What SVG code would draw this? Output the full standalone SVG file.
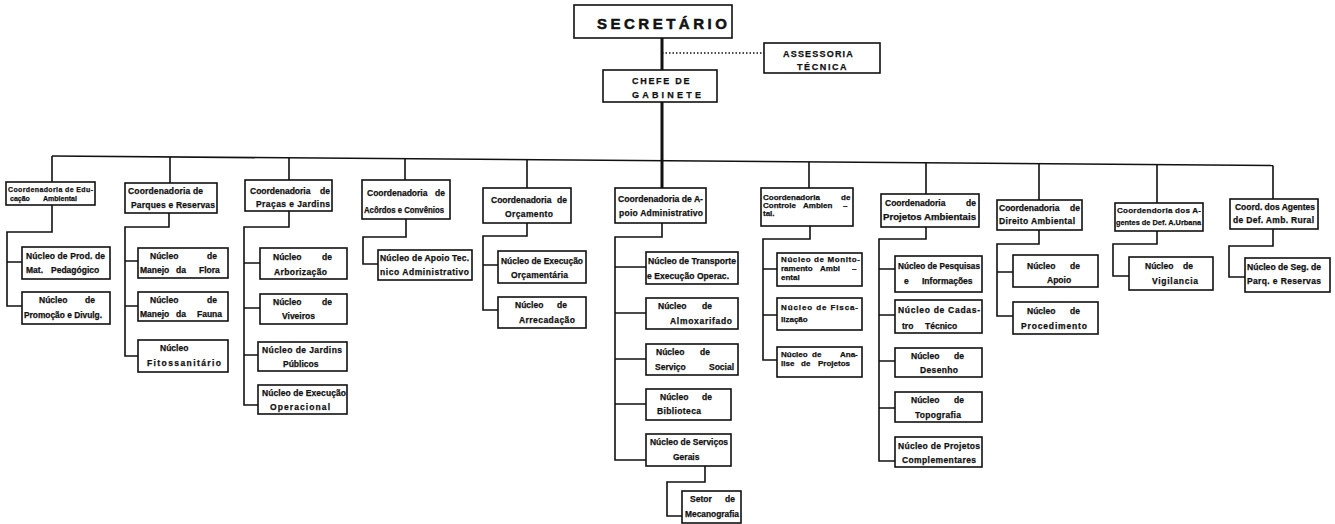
<svg xmlns="http://www.w3.org/2000/svg" width="1335" height="524" viewBox="0 0 1335 524">
<style>
.b{fill:#fff;stroke:#111;stroke-width:1.6}
.c{fill:none;stroke:#111;stroke-width:1.6}
.tr{fill:none;stroke:#111;stroke-width:3}
.d{fill:none;stroke:#111;stroke-width:1.3;stroke-dasharray:1.5 2}
text{font-family:"Liberation Sans",Arial,sans-serif;font-weight:bold;fill:#111;stroke:#111;stroke-width:0.25}
.t{font-size:8.5px}
.s{font-size:8px}
.xs{font-size:7px}
.h1{font-size:15px;stroke-width:0.5}
.h2{font-size:9px}
</style>
<rect width="1335" height="524" fill="#fff"/>
<g id="connectors">
<path class="tr" d="M662,38V70M662,102V188"/>
<path class="d" d="M662,53H764"/>
<path class="c" d="M52,156L1273,165.5"/>
<path class="c" d="M52,156V182M170,156.9V183M289,157.8V180M405,158.7V180M527,159.7V188M809,161.9V188M926,162.8V194M1039,163.7V200M1157,164.6V203M1273,165.5V199"/>
<path class="c" d="M52,205V232H7V306H22M7,262H22"/>
<path class="c" d="M169,213V227H125V356H138M125,261H138M125,306H138"/>
<path class="c" d="M289,211V227H244V405H258M244,263H260M244,308H260M244,355H258"/>
<path class="c" d="M406,219V237H363V264H378"/>
<path class="c" d="M527,223V236H483V310H498M483,265H498"/>
<path class="c" d="M662,223V237H615V460H646M615,267H646M615,313H646M615,359H646M615,404H646"/>
<path class="c" d="M705,466V482H667V516H682"/>
<path class="c" d="M810,226V239H763V360H777M763,269H777M763,315H777"/>
<path class="c" d="M926,227V239H879V461H895M879,269H895M879,315H895M879,361H895M879,408H895"/>
<path class="c" d="M1039,230V244H997V316H1013M997,272H1013"/>
<path class="c" d="M1157,230V244H1113V276H1129"/>
<path class="c" d="M1273,229V246H1229V277H1245"/>
</g>
<g id="secretario"><rect class="b" x="574" y="5" width="158" height="33" stroke-width="2.2"/><text class="h1" x="597" y="29" letter-spacing="3.5">SECRETÁRIO</text></g>
<g id="assessoria"><rect class="b" x="764" y="43" width="116" height="30"/><text class="h2" x="783" y="57" letter-spacing="1.2">ASSESSORIA</text><text class="h2" x="797" y="70" letter-spacing="1.6">TÉCNICA</text></g>
<g id="chefe"><rect class="b" x="603" y="70" width="114" height="32"/><text class="h2" x="632" y="84" letter-spacing="1.7">CHEFE DE</text><text class="h2" x="632" y="98" letter-spacing="3.2">GABINETE</text></g>

<g id="coord-educacao"><rect class="b" x="6" y="182" width="89" height="23"/><text class="xs" x="8" y="192" textLength="85" lengthAdjust="spacing">Coordenadoria de Edu-</text><text class="xs" y="201"><tspan x="10">cação</tspan><tspan x="43">Ambiental</tspan></text></g>
<g id="n-prod"><rect class="b" x="22" y="247" width="88" height="32"/><text class="t" x="26" y="259" textLength="79" lengthAdjust="spacing">Núcleo de Prod. de</text><text class="t" y="273"><tspan x="26">Mat.</tspan><tspan x="51">Pedagógico</tspan></text></g>
<g id="n-promocao"><rect class="b" x="22" y="292" width="88" height="32"/><text class="t" y="303"><tspan x="39">Núcleo</tspan><tspan x="85">de</tspan></text><text class="t" x="24" y="318" textLength="78" lengthAdjust="spacingAndGlyphs">Promoção e Divulg.</text></g>

<g id="coord-parques"><rect class="b" x="125" y="183" width="92" height="30"/><text class="t" x="128" y="194" textLength="75" lengthAdjust="spacing">Coordenadoria de</text><text class="t" x="131" y="208" textLength="84" lengthAdjust="spacing">Parques e Reservas</text></g>
<g id="n-flora"><rect class="b" x="138" y="248" width="90" height="30"/><text class="t" y="259"><tspan x="150">Núcleo</tspan><tspan x="207">de</tspan></text><text class="t" y="273"><tspan x="140">Manejo</tspan><tspan x="176">da</tspan><tspan x="199">Flora</tspan></text></g>
<g id="n-fauna"><rect class="b" x="138" y="292" width="90" height="29"/><text class="t" y="303"><tspan x="150">Núcleo</tspan><tspan x="207">de</tspan></text><text class="t" y="317"><tspan x="140">Manejo</tspan><tspan x="176">da</tspan><tspan x="197">Fauna</tspan></text></g>
<g id="n-fito"><rect class="b" x="138" y="340" width="90" height="32"/><text class="t" x="160" y="351">Núcleo</text><text class="t" x="147" y="366" textLength="74" lengthAdjust="spacing">Fitossanitário</text></g>

<g id="coord-pracas"><rect class="b" x="245" y="180" width="87" height="31"/><text class="t" y="194"><tspan x="250">Coordenadoria</tspan><tspan x="320">de</tspan></text><text class="t" x="256" y="207" textLength="74" lengthAdjust="spacing">Praças e Jardins</text></g>
<g id="n-arboriz"><rect class="b" x="260" y="248" width="87" height="31"/><text class="t" y="260"><tspan x="273">Núcleo</tspan><tspan x="322">de</tspan></text><text class="t" x="274" y="275" textLength="53" lengthAdjust="spacing">Arborização</text></g>
<g id="n-viveiros"><rect class="b" x="260" y="294" width="87" height="30"/><text class="t" y="305"><tspan x="273">Núcleo</tspan><tspan x="322">de</tspan></text><text class="t" x="282" y="319">Viveiros</text></g>
<g id="n-jardins"><rect class="b" x="258" y="342" width="89" height="29"/><text class="t" x="262" y="353" textLength="80" lengthAdjust="spacing">Núcleo de Jardins</text><text class="t" x="283" y="367">Públicos</text></g>
<g id="n-execop"><rect class="b" x="258" y="385" width="89" height="29"/><text class="t" x="262" y="396" textLength="84" lengthAdjust="spacing">Núcleo de Execução</text><text class="t" x="270" y="410" textLength="60" lengthAdjust="spacing">Operacional</text></g>

<g id="coord-acordos"><rect class="b" x="362" y="180" width="88" height="39"/><text class="t" y="196"><tspan x="367">Coordenadoria</tspan><tspan x="435">de</tspan></text><text class="t" x="364" y="213" textLength="80" lengthAdjust="spacingAndGlyphs">Acôrdos e Convênios</text></g>
<g id="n-apoiotec"><rect class="b" x="378" y="250" width="94" height="30"/><text class="t" x="380" y="261" textLength="89" lengthAdjust="spacing">Núcleo de Apoio Tec.</text><text class="t" x="380" y="275" textLength="89" lengthAdjust="spacing">nico Administrativo</text></g>

<g id="coord-orcamento"><rect class="b" x="483" y="188" width="88" height="35"/><text class="t" y="203"><tspan x="491">Coordenadoria</tspan><tspan x="557">de</tspan></text><text class="t" x="505" y="217" textLength="48" lengthAdjust="spacing">Orçamento</text></g>
<g id="n-execorc"><rect class="b" x="498" y="251" width="88" height="32"/><text class="t" x="501" y="264" textLength="82" lengthAdjust="spacingAndGlyphs">Núcleo de Execução</text><text class="t" x="511" y="278" textLength="57" lengthAdjust="spacing">Orçamentária</text></g>
<g id="n-arrecad"><rect class="b" x="498" y="297" width="88" height="31"/><text class="t" y="308"><tspan x="515">Núcleo</tspan><tspan x="557">de</tspan></text><text class="t" x="519" y="323" textLength="56" lengthAdjust="spacing">Arrecadação</text></g>

<g id="coord-apoio"><rect class="b" x="615" y="188" width="91" height="35"/><text class="t" x="618" y="202" textLength="85" lengthAdjust="spacingAndGlyphs">Coordenadoria de A-</text><text class="t" x="619" y="216" textLength="84" lengthAdjust="spacing">poio Administrativo</text></g>
<g id="n-transporte"><rect class="b" x="646" y="252" width="92" height="32"/><text class="t" x="648" y="264" textLength="88" lengthAdjust="spacingAndGlyphs">Núcleo de Transporte</text><text class="t" x="647" y="279" textLength="82" lengthAdjust="spacing">e Execução Operac.</text></g>
<g id="n-almox"><rect class="b" x="646" y="298" width="92" height="31"/><text class="t" y="309"><tspan x="658">Núcleo</tspan><tspan x="702">de</tspan></text><text class="t" x="670" y="324" textLength="62" lengthAdjust="spacing">Almoxarifado</text></g>
<g id="n-social"><rect class="b" x="646" y="344" width="92" height="31"/><text class="t" y="355"><tspan x="656">Núcleo</tspan><tspan x="700">de</tspan></text><text class="t" y="370"><tspan x="655">Serviço</tspan><tspan x="709">Social</tspan></text></g>
<g id="n-biblio"><rect class="b" x="646" y="389" width="85" height="31"/><text class="t" y="400"><tspan x="660">Núcleo</tspan><tspan x="702">de</tspan></text><text class="t" x="657" y="414" textLength="44" lengthAdjust="spacing">Biblioteca</text></g>
<g id="n-servgerais"><rect class="b" x="646" y="434" width="85" height="32"/><text class="t" x="650" y="445" textLength="78" lengthAdjust="spacingAndGlyphs">Núcleo de Serviços</text><text class="t" x="673" y="460">Gerais</text></g>
<g id="setor-mecano"><rect class="b" x="682" y="491" width="59" height="32"/><text class="t" y="502"><tspan x="690">Setor</tspan><tspan x="725">de</tspan></text><text class="t" x="685" y="517" textLength="54" lengthAdjust="spacingAndGlyphs">Mecanografia</text></g>

<g id="coord-controle"><rect class="b" x="761" y="188" width="92" height="38"/><text class="s" y="200"><tspan x="763">Coordenadoria</tspan><tspan x="841">de</tspan></text><text class="s" y="208"><tspan x="763">Controle</tspan><tspan x="803">Ambien</tspan><tspan x="843">–</tspan></text><text class="s" x="763" y="216">tal.</text></g>
<g id="n-monit"><rect class="b" x="777" y="253" width="85" height="33"/><text class="s" x="781" y="262" textLength="79" lengthAdjust="spacing">Núcleo de Monito-</text><text class="s" y="271"><tspan x="781">ramento</tspan><tspan x="820">Ambi</tspan><tspan x="852">–</tspan></text><text class="s" x="781" y="280">ental</text></g>
<g id="n-fiscal"><rect class="b" x="777" y="298" width="85" height="32"/><text class="s" x="781" y="310" textLength="77" lengthAdjust="spacing">Núcleo de Fisca-</text><text class="s" x="781" y="322">lização</text></g>
<g id="n-analise"><rect class="b" x="777" y="347" width="85" height="30"/><text class="s" y="357"><tspan x="781">Núcleo</tspan><tspan x="812">de</tspan><tspan x="840">Ana-</tspan></text><text class="s" y="366"><tspan x="781">lise</tspan><tspan x="801">de</tspan><tspan x="818">Projetos</tspan></text></g>

<g id="coord-projetos"><rect class="b" x="881" y="194" width="98" height="33"/><text class="t" y="206"><tspan x="885">Coordenadoria</tspan><tspan x="966">de</tspan></text><text class="t" x="883" y="220" textLength="93" lengthAdjust="spacingAndGlyphs">Projetos Ambientais</text></g>
<g id="n-pesquisas"><rect class="b" x="895" y="256" width="87" height="36"/><text class="t" x="898" y="269" textLength="82" lengthAdjust="spacingAndGlyphs">Núcleo de Pesquisas</text><text class="t" y="284"><tspan x="904">e</tspan><tspan x="922">Informações</tspan></text></g>
<g id="n-cadastro"><rect class="b" x="895" y="300" width="87" height="33"/><text class="t" x="898" y="313" textLength="82" lengthAdjust="spacing">Núcleo de Cadas-</text><text class="t" y="329"><tspan x="902">tro</tspan><tspan x="925">Técnico</tspan></text></g>
<g id="n-desenho"><rect class="b" x="895" y="348" width="87" height="29"/><text class="t" y="359"><tspan x="911">Núcleo</tspan><tspan x="954">de</tspan></text><text class="t" x="920" y="373" textLength="38" lengthAdjust="spacing">Desenho</text></g>
<g id="n-topo"><rect class="b" x="895" y="392" width="87" height="30"/><text class="t" y="403"><tspan x="911">Núcleo</tspan><tspan x="954">de</tspan></text><text class="t" x="915" y="418" textLength="46" lengthAdjust="spacing">Topografia</text></g>
<g id="n-complem"><rect class="b" x="895" y="437" width="87" height="30"/><text class="t" x="898" y="449" textLength="82" lengthAdjust="spacing">Núcleo de Projetos</text><text class="t" x="902" y="463" textLength="74" lengthAdjust="spacing">Complementares</text></g>

<g id="coord-direito"><rect class="b" x="997" y="200" width="85" height="30"/><text class="t" y="211"><tspan x="999">Coordenadoria</tspan><tspan x="1070">de</tspan></text><text class="t" x="999" y="224" textLength="76" lengthAdjust="spacing">Direito Ambiental</text></g>
<g id="n-apoio"><rect class="b" x="1013" y="255" width="85" height="32"/><text class="t" y="269"><tspan x="1027">Núcleo</tspan><tspan x="1070">de</tspan></text><text class="t" x="1047" y="283">Apoio</text></g>
<g id="n-proced"><rect class="b" x="1013" y="302" width="85" height="32"/><text class="t" y="314"><tspan x="1027">Núcleo</tspan><tspan x="1070">de</tspan></text><text class="t" x="1021" y="329" textLength="66" lengthAdjust="spacing">Procedimento</text></g>

<g id="coord-urbana"><rect class="b" x="1115" y="203" width="88" height="28"/><text class="s" x="1117" y="213" textLength="84" lengthAdjust="spacing">Coordendoria dos A-</text><text class="s" x="1116" y="225" textLength="85" lengthAdjust="spacingAndGlyphs">gentes de Def. A.Urbana</text></g>
<g id="n-vigil"><rect class="b" x="1129" y="257" width="84" height="33"/><text class="t" y="269"><tspan x="1145">Núcleo</tspan><tspan x="1183">de</tspan></text><text class="t" x="1152" y="284" textLength="46" lengthAdjust="spacing">Vigilancia</text></g>

<g id="coord-rural"><rect class="b" x="1230" y="199" width="88" height="30"/><text class="t" x="1235" y="210" textLength="80" lengthAdjust="spacingAndGlyphs">Coord. dos Agentes</text><text class="t" x="1233" y="223" textLength="81" lengthAdjust="spacing">de Def. Amb. Rural</text></g>
<g id="n-seg"><rect class="b" x="1245" y="258" width="85" height="34"/><text class="t" x="1247" y="270" textLength="74" lengthAdjust="spacingAndGlyphs">Núcleo de Seg. de</text><text class="t" x="1247" y="284" textLength="74" lengthAdjust="spacing">Parq. e Reservas</text></g>
</svg>
